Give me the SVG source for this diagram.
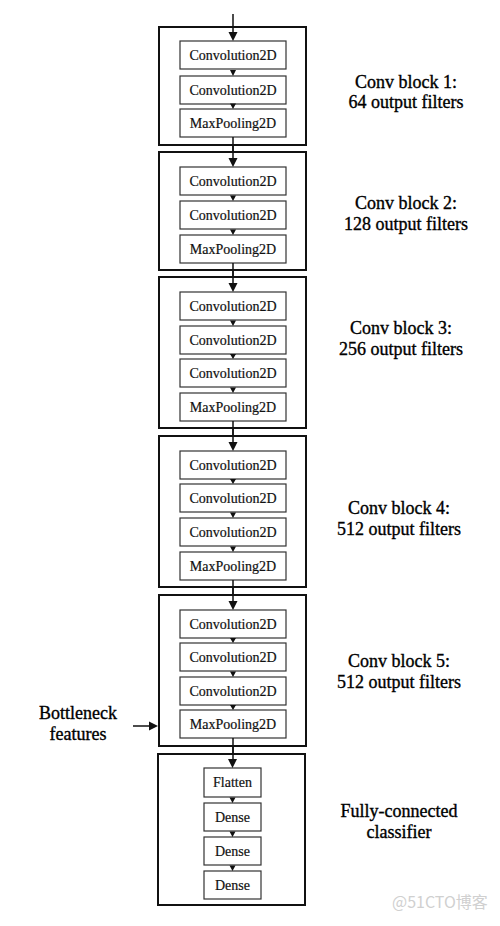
<svg xmlns="http://www.w3.org/2000/svg" width="500" height="926" viewBox="0 0 500 926">
<defs>
<style>
.outer{fill:#fff;stroke:#111;stroke-width:2}
.inner{fill:#fff;stroke:#333;stroke-width:1.2}
.lt{font-family:"Liberation Serif","Times New Roman",serif;font-size:14px;fill:#111;text-anchor:middle;stroke:#111;stroke-width:0.2}
.lbl{font-family:"Liberation Serif","Times New Roman",serif;font-size:18px;fill:#000;text-anchor:middle;stroke:#000;stroke-width:0.35}
.ln{stroke:#111;stroke-width:1.5;fill:none}
.ah{fill:#111;stroke:none}
.wm{font-family:"Noto Sans CJK SC","Liberation Sans",sans-serif;font-size:16px;fill:#d0d0d0}
</style>
</defs>
<rect width="500" height="926" fill="#fff"/>

<g id="block1">
<rect class="outer" x="159" y="27" width="147" height="118"/>
<g id="b1c1"><rect class="inner" x="180" y="41" width="106" height="28"/><text class="lt" x="233" y="60">Convolution2D</text></g>
<g id="b1c2"><rect class="inner" x="180" y="76" width="106" height="28"/><text class="lt" x="233" y="95">Convolution2D</text></g>
<g id="b1p"><rect class="inner" x="180" y="109" width="106" height="28"/><text class="lt" x="233" y="128">MaxPooling2D</text></g>
</g>
<g id="block2">
<rect class="outer" x="159" y="152" width="147" height="118"/>
<g id="b2c1"><rect class="inner" x="180" y="167" width="106" height="28"/><text class="lt" x="233" y="186">Convolution2D</text></g>
<g id="b2c2"><rect class="inner" x="180" y="201" width="106" height="28"/><text class="lt" x="233" y="220">Convolution2D</text></g>
<g id="b2p"><rect class="inner" x="180" y="235" width="106" height="28"/><text class="lt" x="233" y="254">MaxPooling2D</text></g>
</g>
<g id="block3">
<rect class="outer" x="159" y="277" width="147" height="151"/>
<g id="b3c1"><rect class="inner" x="180" y="292" width="106" height="28"/><text class="lt" x="233" y="311">Convolution2D</text></g>
<g id="b3c2"><rect class="inner" x="180" y="326" width="106" height="28"/><text class="lt" x="233" y="345">Convolution2D</text></g>
<g id="b3c3"><rect class="inner" x="180" y="359" width="106" height="28"/><text class="lt" x="233" y="378">Convolution2D</text></g>
<g id="b3p"><rect class="inner" x="180" y="393" width="106" height="28"/><text class="lt" x="233" y="412">MaxPooling2D</text></g>
</g>
<g id="block4">
<rect class="outer" x="159" y="436" width="147" height="151"/>
<g id="b4c1"><rect class="inner" x="180" y="451" width="106" height="28"/><text class="lt" x="233" y="470">Convolution2D</text></g>
<g id="b4c2"><rect class="inner" x="180" y="484" width="106" height="28"/><text class="lt" x="233" y="503">Convolution2D</text></g>
<g id="b4c3"><rect class="inner" x="180" y="518" width="106" height="28"/><text class="lt" x="233" y="537">Convolution2D</text></g>
<g id="b4p"><rect class="inner" x="180" y="552" width="106" height="28"/><text class="lt" x="233" y="571">MaxPooling2D</text></g>
</g>
<g id="block5">
<rect class="outer" x="159" y="595" width="147" height="151"/>
<g id="b5c1"><rect class="inner" x="180" y="610" width="106" height="28"/><text class="lt" x="233" y="629">Convolution2D</text></g>
<g id="b5c2"><rect class="inner" x="180" y="643" width="106" height="28"/><text class="lt" x="233" y="662">Convolution2D</text></g>
<g id="b5c3"><rect class="inner" x="180" y="677" width="106" height="28"/><text class="lt" x="233" y="696">Convolution2D</text></g>
<g id="b5p"><rect class="inner" x="180" y="710" width="106" height="28"/><text class="lt" x="233" y="729">MaxPooling2D</text></g>
</g>
<g id="block6">
<rect class="outer" x="158" y="754" width="147" height="151"/>
<g id="fl"><rect class="inner" x="204" y="768" width="57" height="29"/><text class="lt" x="232.5" y="787">Flatten</text></g>
<g id="d1"><rect class="inner" x="204" y="803" width="57" height="28"/><text class="lt" x="232.5" y="822">Dense</text></g>
<g id="d2"><rect class="inner" x="204" y="837" width="57" height="28"/><text class="lt" x="232.5" y="856">Dense</text></g>
<g id="d3"><rect class="inner" x="204" y="871" width="57" height="28"/><text class="lt" x="232.5" y="890">Dense</text></g>
</g>

<g id="connectors">
<path class="ln" d="M233 14V33M233 145V159M233 270V284M233 428V443M233 587V602M233 746V760"/>
<path class="ln" d="M233 137V152M233 263V277M233 421V436M233 580V595M233 738V754"/>
<path class="ln" d="M133 726H150"/>
<path class="ah" d="M228.5 32h9l-4.5 9z M228.5 158h9l-4.5 9z M228.5 283h9l-4.5 9z M228.5 442h9l-4.5 9z M228.5 601h9l-4.5 9z M228 759h9l-4.5 9z"/>
<path class="ah" d="M149 721.5v9l9-4.5z"/>
<path class="ah" d="M230 70h6l-3 6z M230 103.5h6l-3 5.5z M230 195.5h6l-3 5.5z M230 229.5h6l-3 5.5z M230 320.5h6l-3 5.5z M230 354h6l-3 5z M230 387.5h6l-3 5.5z M230 479h6l-3 5z M230 512.5h6l-3 5.5z M230 546.5h6l-3 5.5z M230 638h6l-3 5z M230 671.5h6l-3 5.5z M230 705h6l-3 5z M229.5 797.5h6l-3 5.5z M229.5 831.5h6l-3 5.5z M229.5 865.5h6l-3 5.5z"/>
</g>

<g id="labels">
<text class="lbl" x="406" y="88">Conv block 1:</text>
<text class="lbl" x="406" y="108">64 output filters</text>
<text class="lbl" x="406" y="209">Conv block 2:</text>
<text class="lbl" x="406" y="230">128 output filters</text>
<text class="lbl" x="401" y="334">Conv block 3:</text>
<text class="lbl" x="401" y="355">256 output filters</text>
<text class="lbl" x="399" y="514">Conv block 4:</text>
<text class="lbl" x="399" y="535">512 output filters</text>
<text class="lbl" x="399" y="667">Conv block 5:</text>
<text class="lbl" x="399" y="688">512 output filters</text>
<text class="lbl" x="399" y="817">Fully-connected</text>
<text class="lbl" x="399" y="838">classifier</text>
<text class="lbl" x="78" y="719">Bottleneck</text>
<text class="lbl" x="78" y="740">features</text>
</g>
<g id="watermark">
<text class="wm" x="392" y="908">@51CTO博客</text>
</g>
</svg>
